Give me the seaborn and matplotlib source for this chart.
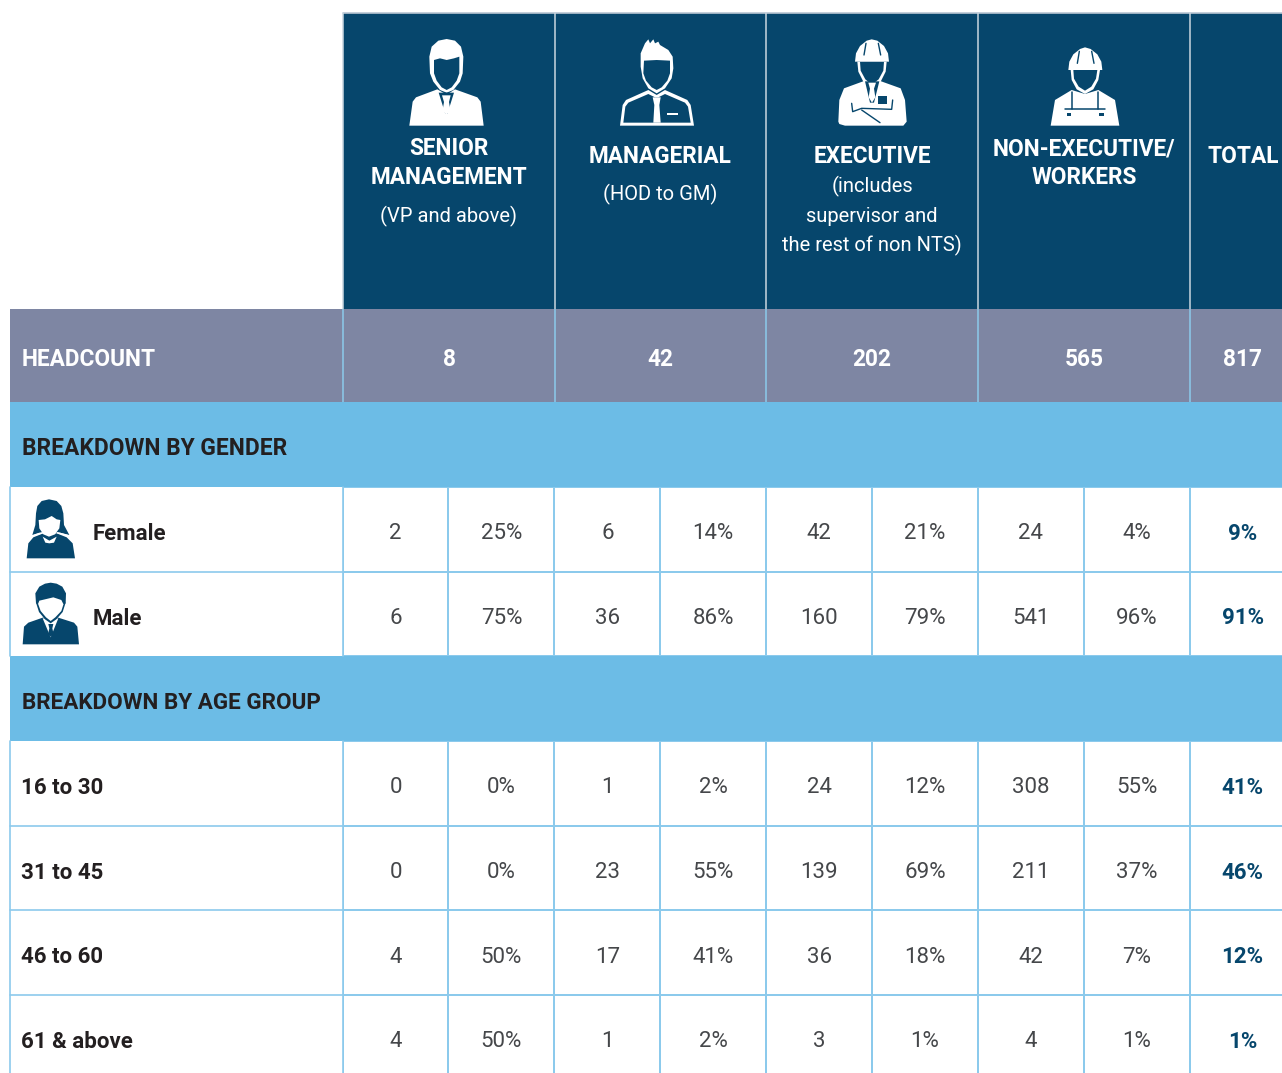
import matplotlib
matplotlib.use("Agg")
import matplotlib.pyplot as plt
from matplotlib.colors import ListedColormap
import numpy as np
import pandas as pd
import seaborn as sns

W, H = 1282, 1073
NAVY = "#06466c"
GREY = "#7e86a3"
BAND = "#6cbce6"
RULE = "#8ccaec"
INK = "#231f20"

# data
group_titles = ["SENIOR\nMANAGEMENT", "MANAGERIAL", "EXECUTIVE", "NON-EXECUTIVE/\nWORKERS", "TOTAL"]
headcount = [8, 42, 202, 565, 817]

gender_labels = ["Female", "Male"]
gender_counts = [[2, 6, 42, 24], [6, 36, 160, 541]]
gender_pcts = [[25, 14, 21, 4, 9], [75, 86, 79, 96, 91]]

age_labels = ["16 to 30", "31 to 45", "46 to 60", "61 & above"]
age_counts = [[0, 1, 24, 308], [0, 23, 139, 211], [4, 17, 36, 42], [4, 1, 3, 4]]
age_pcts = [[0, 2, 12, 55, 41], [0, 55, 69, 37, 46], [50, 41, 18, 7, 12], [50, 2, 1, 1, 1]]

sns.set_theme(style="white")
plt.rcParams["font.family"] = ["Roboto", "DejaVu Sans"]

fig = plt.figure(figsize=(W / 100, H / 100), dpi=100)
ax = fig.add_axes([0, 0, 1, 1])
ax.set_xlim(0, W)
ax.set_ylim(H, 0)
ax.axis("off")


def band(x0, x1, y0, y1, color):
    ax.fill([x0, x1, x1, x0], [y0, y0, y1, y1], color=color, lw=0, zorder=1)


def table_block(counts, pcts, y0, y1):
    # one row of the block: count, pct, count, pct ... then the total pct
    rows = []
    for c, p in zip(counts, pcts):
        row = []
        for i in range(4):
            row += [str(c[i]), f"{p[i]}%"]
        rows.append(row + [f"{p[4]}%"])
    annot = pd.DataFrame(rows)
    sub = fig.add_axes([342.6 / W, 1 - y1 / H, 953 / W, (y1 - y0) / H])
    sns.heatmap(np.zeros(annot.shape), ax=sub, annot=annot.values, fmt="", cbar=False,
                cmap=ListedColormap(["white"]), linewidths=1.2, linecolor=RULE,
                xticklabels=False, yticklabels=False,
                annot_kws={"fontsize": 16, "color": "#45474a", "fontweight": "normal"})
    for i, t in enumerate(sub.texts):
        x, y = t.get_position()
        t.set_position((x, y + 0.055))
        if i % 9 == 8:
            t.set_fontweight("bold")
            t.set_color(NAVY)
    return sub


band(343, W, 13, 309, NAVY)
band(10, W, 309, 402, GREY)
band(10, W, 402, 487, BAND)
band(10, W, 656, 741, BAND)
band(10, 343, 487, 656, "white")

table_block(gender_counts, gender_pcts, 487, 656)
table_block(age_counts, age_pcts, 741, 1079.5)

# front axes for header text and icons
top = fig.add_axes([0, 0, 1, 1])
top.set_xlim(0, W)
top.set_ylim(H, 0)
top.axis("off")
top.patch.set_alpha(0)

top.plot([343, W], [13, 13], color="#b9c6d3", lw=1.2)
for x in [342.8, 554.6, 766.4, 978.2, 1189.8]:
    top.plot([x, x], [13, 309], color="#c9d6e0", lw=1.1, solid_capstyle="butt")
    top.plot([x, x], [309, 402], color=RULE, lw=1.1, solid_capstyle="butt")
for y0, y1 in [(487, 656), (741, H)]:
    top.plot([10, 10], [y0, y1], color=RULE, lw=1.2)
    top.plot([342.8, 342.8], [y0, y1], color=RULE, lw=1.2)
for y in [572, 826, 910, 995]:
    top.plot([10, 343], [y, y], color=RULE, lw=1.2)


def txt(x, y, s, size=16, weight="bold", color="white", ha="center"):
    top.text(x, y + 1.6, s, fontsize=size, fontweight=weight, color=color, ha=ha, va="center")


# column heads
head_x = [449, 660, 872, 1084, 1243]
txt(449, 147, "SENIOR", 16.3)
txt(449, 176, "MANAGEMENT", 16.3)
txt(449, 215, "(VP and above)", 14.5, "normal")
txt(660, 155, group_titles[1], 16.3)
txt(660, 193, "(HOD to GM)", 14.5, "normal")
txt(872, 155, group_titles[2], 16.3)
txt(872, 185, "(includes", 14.5, "normal")
txt(872, 215, "supervisor and", 14.5, "normal")
txt(872, 244, "the rest of non NTS)", 14.5, "normal")
txt(1084, 147, "NON-EXECUTIVE/", 16.3)
txt(1084, 176, "WORKERS", 16.3)
txt(1243, 155, group_titles[4], 16.3)

txt(22, 358, "HEADCOUNT", 16.3, ha="left")
for x, v in zip(head_x, headcount):
    txt(x, 358, str(v), 16.3)

txt(22, 447, "BREAKDOWN BY GENDER", 16.4, color=INK, ha="left")
txt(22, 701, "BREAKDOWN BY AGE GROUP", 16.2, color=INK, ha="left")

txt(93, 532, gender_labels[0], 16, color=INK, ha="left")
txt(93, 617, gender_labels[1], 16, color=INK, ha="left")
for y, lab in zip([786, 871, 955, 1040], age_labels):
    txt(21, y, lab, 16, color=INK, ha="left")


def shape(pts, ox, oy, color, z=5):
    p = np.array(pts, dtype=float) / 3
    top.fill(p[:, 0] + ox, p[:, 1] + oy, color=color, lw=0, zorder=z)


def stroke(pts, ox, oy, color, lw=1.0, z=7):
    p = np.array(pts, dtype=float) / 3
    top.plot(p[:, 0] + ox, p[:, 1] + oy, color=color, lw=lw, zorder=z, solid_capstyle="round")


# senior
o = (340, 10)
shape([(208, 347), (218, 275), (228, 262), (292, 238), (320, 254), (345, 238), (412, 262), (422, 275), (431, 347)], *o, "white")
shape([(270, 190), (268, 140), (275, 110), (295, 92), (320, 87), (345, 92), (363, 110), (370, 140), (368, 190),
       (360, 215), (340, 240), (320, 248), (300, 240), (280, 215)], *o, "white", 6)
shape([(282, 150), (300, 145), (320, 150), (342, 145), (358, 140), (358, 190), (350, 212), (335, 232), (320, 240),
       (305, 232), (290, 212), (282, 190)], *o, NAVY, 6)
shape([(296, 248), (342, 248), (322, 312), (316, 312)], *o, NAVY, 6)
shape([(306, 256), (332, 256), (327, 276), (331, 300), (319, 316), (308, 300), (312, 276)], *o, "white", 7)

# managerial
o = (340, 10)
shape([(840, 347), (848, 285), (858, 270), (925, 240), (950, 255), (975, 240), (1042, 270), (1052, 285), (1062, 347)], *o, "white")
shape([(850, 338), (856, 290), (865, 278), (925, 252), (945, 262), (955, 262), (975, 252), (1035, 278), (1044, 290), (1052, 338)], *o, NAVY)
shape([(902, 170), (902, 130), (915, 100), (925, 88), (930, 100), (940, 88), (945, 100), (955, 95), (960, 105), (985, 120),
       (998, 140), (1000, 175), (995, 205), (975, 235), (950, 250), (925, 235), (908, 205)], *o, "white", 6)
shape([(912, 152), (950, 150), (990, 152), (990, 190), (982, 212), (965, 232), (950, 240), (935, 232), (918, 212), (910, 190)], *o, NAVY, 6)
shape([(938, 262), (962, 262), (958, 285), (962, 338), (940, 338), (943, 285)], *o, "white", 7)
shape([(982, 310), (1014, 310), (1014, 316), (982, 316)], *o, "white", 7)

# executive
o = (770, 10)
shape([(205, 335), (208, 270), (222, 235), (285, 212), (305, 225), (328, 212), (392, 235), (405, 270), (410, 335),
       (400, 347), (225, 347), (208, 342)], *o, "white")
shape([(262, 155), (265, 185), (280, 215), (305, 235), (332, 215), (347, 185), (350, 155)], *o, "white", 6)
shape([(270, 155), (272, 182), (286, 208), (305, 224), (326, 208), (340, 182), (342, 155)], *o, NAVY, 6)
shape([(255, 155), (258, 130), (270, 108), (290, 92), (305, 88), (322, 92), (342, 108), (354, 130), (357, 155)], *o, "white", 6)
stroke([(288, 100), (282, 135)], *o, NAVY)
stroke([(325, 100), (332, 135)], *o, NAVY)
shape([(285, 214), (328, 214), (312, 278), (300, 278)], *o, NAVY, 6)
shape([(295, 218), (318, 218), (312, 236), (316, 262), (306, 278), (296, 262), (300, 236)], *o, "white", 7)
shape([(325, 258), (352, 258), (352, 282), (325, 282)], *o, NAVY, 7)
stroke([(245, 280), (248, 305), (275, 295), (365, 298), (368, 270)], *o, NAVY)
stroke([(275, 300), (330, 338)], *o, NAVY)

# non-executive
o = (770, 10)
shape([(842, 347), (855, 270), (905, 240), (945, 252), (985, 240), (1035, 270), (1048, 347)], *o, "white")
shape([(902, 180), (905, 210), (920, 238), (945, 252), (970, 238), (985, 210), (990, 180)], *o, "white", 6)
shape([(910, 180), (912, 206), (926, 230), (945, 242), (964, 230), (978, 206), (982, 180)], *o, NAVY, 6)
shape([(895, 180), (898, 155), (910, 133), (930, 117), (945, 112), (962, 117), (982, 133), (994, 155), (997, 180)], *o, "white", 6)
stroke([(928, 124), (922, 160)], *o, NAVY)
stroke([(965, 124), (972, 160)], *o, NAVY)
stroke([(905, 245), (905, 296), (885, 296)], *o, NAVY, 1.1)
stroke([(985, 245), (985, 296), (1005, 296)], *o, NAVY, 1.1)
stroke([(905, 296), (985, 296)], *o, NAVY, 1.1)
shape([(890, 308), (904, 308), (904, 318), (890, 318)], *o, NAVY, 7)
shape([(986, 308), (1002, 308), (1002, 318), (986, 318)], *o, NAVY, 7)

# female
o = (0, 480)
shape([(80, 235), (85, 190), (100, 172), (130, 160), (170, 160), (200, 172), (218, 190), (225, 235)], *o, NAVY)
shape([(97, 165), (106, 135), (108, 100), (112, 78), (125, 63), (147, 58), (170, 63), (184, 78), (190, 100), (192, 135), (208, 165),
       (180, 158), (118, 158)], *o, NAVY, 6)
shape([(116, 120), (135, 118), (155, 108), (170, 118), (181, 120), (178, 145), (165, 163), (147, 170), (130, 163), (118, 145)], *o, "white", 7)
stroke([(97, 168), (128, 158)], *o, "white", 1.0)
stroke([(208, 168), (172, 158)], *o, "white", 1.0)
shape([(128, 170), (148, 182), (170, 170), (162, 188), (148, 190), (136, 188)], *o, "white", 7)

# male
o = (0, 480)
shape([(68, 493), (72, 440), (85, 428), (128, 413), (175, 413), (222, 428), (232, 440), (237, 493)], *o, NAVY)
shape([(128, 415), (175, 415), (152, 472)], *o, "white", 6)
shape([(145, 432), (160, 432), (157, 445), (161, 463), (152, 470), (144, 463), (148, 445)], *o, NAVY, 7)
shape([(108, 368), (117, 396), (135, 418), (152, 430), (169, 418), (188, 396), (197, 368)], *o, NAVY, 6)
shape([(113, 368), (122, 393), (138, 412), (152, 423), (166, 412), (184, 393), (192, 368), (180, 358), (125, 358)], *o, "white", 7)
shape([(108, 370), (106, 340), (118, 320), (135, 311), (152, 308), (170, 311), (187, 320), (198, 340), (197, 370),
       (190, 372), (184, 360), (160, 352), (135, 358), (118, 362), (114, 372)], *o, NAVY, 8)

fig.savefig("out.png", dpi=100)
